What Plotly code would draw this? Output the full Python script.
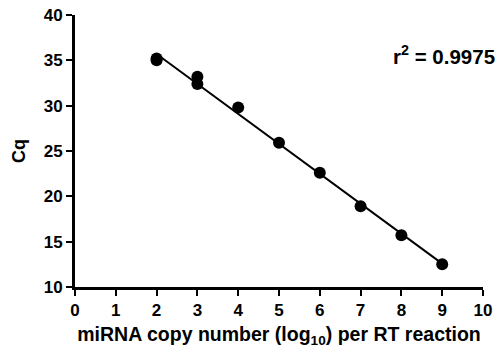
import numpy as np
import plotly.graph_objects as go

# Data
copy_log10 = [2, 2, 3, 3, 4, 5, 6, 7, 8, 9]
cq_values = [35.0, 35.2, 33.2, 32.4, 29.8, 25.9, 22.6, 18.9, 15.7, 12.5]
r2_text = "r<sup>2</sup> = 0.9975"
x_ticks = [0, 1, 2, 3, 4, 5, 6, 7, 8, 9, 10]
y_ticks = [10, 15, 20, 25, 30, 35, 40]

slope, intercept = np.polyfit(copy_log10, cq_values, 1)
fit_x = [min(copy_log10), max(copy_log10)]
fit_y = [slope * v + intercept for v in fit_x]

font_family = "Liberation Sans, Arial, sans-serif"

fig = go.Figure()
fig.add_trace(go.Scatter(x=fit_x, y=fit_y, mode="lines",
                         line=dict(color="black", width=2), showlegend=False))
fig.add_trace(go.Scatter(x=copy_log10, y=cq_values, mode="markers",
                         marker=dict(color="black", size=12), showlegend=False))

fig.add_annotation(x=1.0, y=35.6, xref="paper", yref="y", text=r2_text,
                   showarrow=False, xanchor="right", yanchor="middle", xshift=14,
                   font=dict(family=font_family, size=20.5, color="black", weight="bold"))

fig.update_layout(
    width=498, height=351,
    margin=dict(l=75, r=15, t=15, b=64, autoexpand=False),
    paper_bgcolor="white", plot_bgcolor="white",
    font=dict(family=font_family, color="black"),
)
fig.update_xaxes(range=[0, 10], tickvals=x_ticks, showgrid=False, zeroline=False,
                 showline=True, linecolor="black", linewidth=3, automargin=False,
                 ticks="outside", ticklen=6, tickwidth=2, tickcolor="black",
                 tickfont=dict(family=font_family, size=17, color="black", weight="bold"),
                 title=dict(text="miRNA copy number (log<sub>10</sub>) per RT reaction",
                            font=dict(family=font_family, size=19.5, color="black", weight="bold"),
                            standoff=8))
fig.update_yaxes(range=[10, 40], tickvals=y_ticks, showgrid=False, zeroline=False,
                 showline=True, linecolor="black", linewidth=3, automargin=False,
                 ticks="outside", ticklen=6, tickwidth=2, tickcolor="black",
                 tickfont=dict(family=font_family, size=17, color="black", weight="bold"),
                 title=dict(text="Cq",
                            font=dict(family=font_family, size=18, color="black", weight="bold"),
                            standoff=14))

fig.write_html("out.html")
